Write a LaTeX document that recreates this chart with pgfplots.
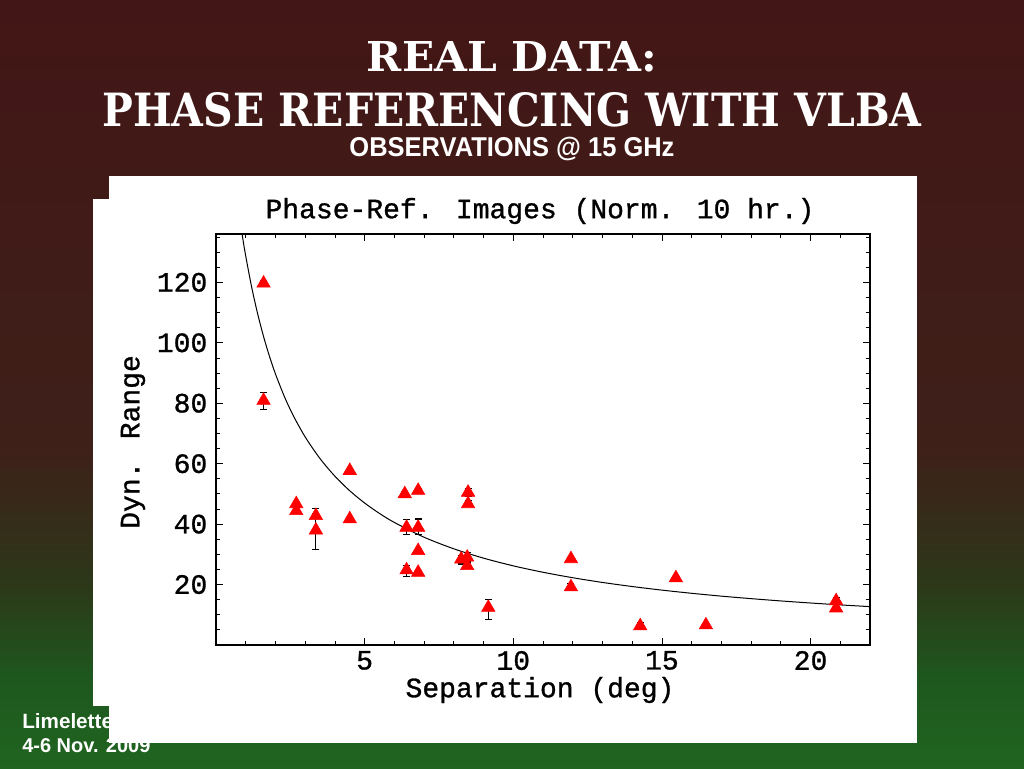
\documentclass[border=0pt]{standalone}
\usepackage{pgfplots}
\pgfplotsset{compat=1.18}
\usepackage{pgfplotstable}
\usepackage{fontspec}
\usepackage{graphicx}
\setmainfont{Liberation Sans}
\newfontfamily\mono{Liberation Mono}[FakeBold=1.0]
\newfontfamily\slab{DejaVu Serif}

\definecolor{bgA}{RGB}{32,100,32}
\definecolor{bgB}{RGB}{30,88,30}
\definecolor{bgC}{RGB}{45,55,25}
\definecolor{bgD}{RGB}{62,32,25}
\definecolor{bgE}{RGB}{66,22,22}
\pgfdeclareverticalshading{slidebg}{100bp}{color(0bp)=(bgA); color(25bp)=(bgA); color(30.7bp)=(bgB); color(37.2bp)=(bgC); color(45.7bp)=(bgD); color(75bp)=(bgE); color(100bp)=(bgE)}

\pgfplotstableread{
x y ep em
1.6 119.7 0.8 1.0
1.6 80.9 2.6 3.1
2.7 46.7 0.8 0.8
2.7 44.4 1.0 1.0
3.36 42.8 0.8 0.8
3.36 38.0 7.2 6.3
4.5 57.7 0.5 0.5
4.5 41.7 0.5 0.5
6.35 50.0 0.8 0.8
6.8 51.1 0.8 0.8
6.41 38.9 2.5 2.4
6.8 38.9 2.8 2.2
6.8 31.2 0.6 0.6
6.41 24.8 1.6 2.2
6.8 24.0 0.6 0.6
8.48 50.5 1.2 1.2
8.48 46.7 1.0 1.0
8.25 28.4 1.2 1.6
8.45 29.0 1.5 1.5
8.45 26.2 1.0 1.0
9.16 12.4 2.8 3.9
11.94 28.5 0.5 0.5
11.94 19.2 1.0 1.0
14.27 6.3 1.2 1.0
15.47 22.2 0.5 0.5
16.48 6.6 0.5 0.5
20.86 14.6 1.0 1.0
20.86 12.2 0.5 0.5
}\dyndata

\pgfplotstableread{
x y
0.8 140.95
0.9 134.55
1.0 128.70
1.2 118.40
1.4 109.63
1.6 102.07
1.8 95.48
2.0 89.70
2.3 82.22
2.6 75.90
3.0 68.84
3.5 61.67
4.0 55.85
4.5 51.03
5.0 46.98
5.5 43.53
6.0 40.55
7.0 35.66
8.0 31.83
9.0 28.74
10 26.19
11 24.07
12 22.26
13 20.70
14 19.35
15 18.16
16 17.11
17 16.17
18 15.34
19 14.58
20 13.90
21 13.27
22 12.70
}\fitdata

\begin{document}
\begin{tikzpicture}
\useasboundingbox (0,0) rectangle (768pt,576pt);
\shade[shading=slidebg] (0,0) rectangle (768pt,576pt);
\begin{scope}[x=0.75pt,y=-0.75pt,yshift=576pt]
  \node[anchor=base west, inner sep=0, text=white, font=\bfseries\fontsize{15.5}{15.5}\selectfont] at (22,728) {Limelette};
  \node[anchor=base west, inner sep=0, text=white, font=\bfseries\fontsize{15}{15}\selectfont] at (22,752) {4-6 Nov. 2009};
  \fill[white] (93,199) rectangle (917,706);
  \fill[white] (109,176) rectangle (917,743);
  \node[anchor=base, inner sep=0, text=white] at (512,72) {\resizebox{217.5pt}{22.5pt}{\slab\bfseries REAL DATA:}};
  \node[anchor=base, inner sep=0, text=white] at (512,127) {\resizebox{614.25pt}{25.5pt}{\slab\bfseries PHASE REFERENCING WITH VLBA}};
  \node[anchor=base, inner sep=0, text=white] at (512,157) {\resizebox{243.75pt}{14.5pt}{\bfseries OBSERVATIONS @ 15 GHz}};
  \node[font=\mono\fontsize{21}{21}\selectfont] at (540,211) {Phase-Ref. Images (Norm. 10 hr.)};
  \node[font=\mono\fontsize{21}{21}\selectfont] at (540,690) {Separation (deg)};
  \node[font=\mono\fontsize{21}{21}\selectfont, rotate=90] at (133,442) {Dyn. Range};
\end{scope}
\begin{axis}[
  at={(162pt,92.25pt)}, anchor=south west,
  scale only axis, width=490.5pt, height=308.25pt,
  xmin=0, xmax=22, ymin=0, ymax=136,
  xtick={5,10,15,20}, ytick={20,40,60,80,100,120},
  minor xtick={1,2,...,22}, minor ytick={5,10,...,135},
  tick align=inside,
  major tick length=5pt, minor tick length=3pt,
  every tick/.style={black, line width=0.6pt},
  axis line style={line width=0.8pt},
  /pgf/number format/assume math mode=true,
  ticklabel style={font=\mono\fontsize{21}{21}\selectfont},
  xticklabel style={yshift=-1pt},
  yticklabel style={xshift=-3pt},
  clip=true,
]
\addplot[black, line width=0.75pt, smooth] table[x=x,y=y] {\fitdata};
\addplot[only marks, mark=triangle*, mark size=5.8pt, mark options={fill=red, draw=red},
  error bars/.cd, y dir=both, y explicit,
  error bar style={black, line width=0.8pt},
  error mark options={rotate=90, mark size=2.6pt, black, line width=0.8pt}]
  table[x=x, y=y, y error plus=ep, y error minus=em] {\dyndata};
\end{axis}
\end{tikzpicture}
\end{document}
